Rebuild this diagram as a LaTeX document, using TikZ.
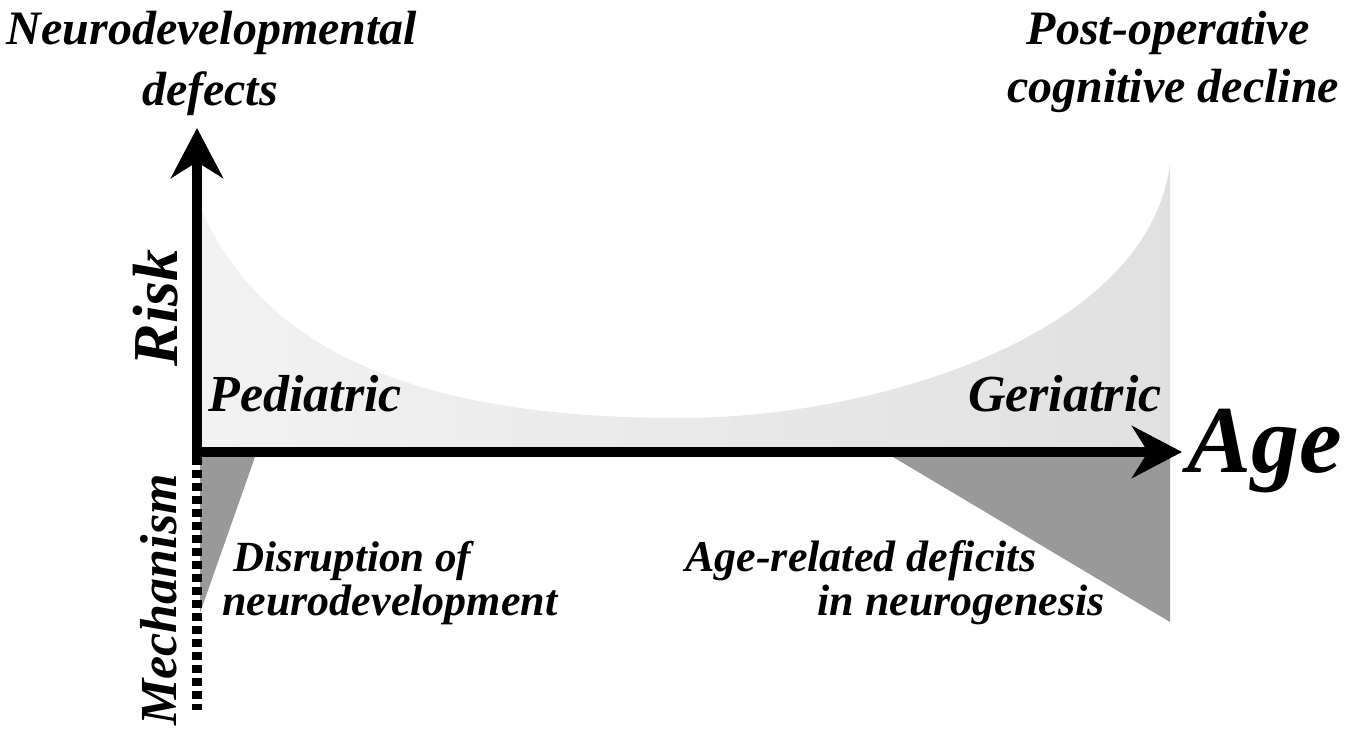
\documentclass[tikz,border=0pt]{standalone}
\usepackage{fontspec}
\setmainfont{Liberation Serif}
\usetikzlibrary{arrows.meta}

\tikzset{
  lbl/.style={font=\bfseries\itshape, inner sep=0pt, anchor=base},
  axisline/.style={line width=5pt, line join=miter, >={Stealth[length=25pt, width=26pt, inset=8pt]}}
}

\begin{document}
\begin{tikzpicture}[x=0.5pt, y=0.5pt]
    \useasboundingbox (0,0) rectangle (1369,733);

    % corner points of the axes
    \coordinate (O) at (197,281);
    \coordinate (ytop) at (197,605);
    \coordinate (xend) at (1182,281);
    \coordinate (mbot) at (197,23);

    % risk curve (U shape)
    \shade[left color=black!5, right color=black!12]
        (197,533) .. controls (260,380) and (420,315) .. (680,315)
        .. controls (880,315) and (1150,400) .. (1170,570)
        -- (1170,281) -- (197,281) -- cycle;

    % mechanism wedges
    \fill[black!40] (200,276) -- (255,276) -- (200,120) -- cycle;
    \fill[black!40] (893,276) -- (1170,276) -- (1170,111) -- cycle;

    % axes
    \draw[axisline, <->] (ytop) -- (O) -- (xend);
    \draw[line width=5pt, dash pattern=on 4pt off 2.5pt] (O) ++(0,-5) coordinate (mtop) -- (mbot);

    % labels
    \node[lbl, font=\fontsize{24}{30}\bfseries\itshape] (nd1) at (212,688) {Neurodevelopmental};
    \node[lbl, font=\fontsize{24}{30}\bfseries\itshape] (nd2) at (210,627) {defects};
    \node[lbl, font=\fontsize{24}{30}\bfseries\itshape] (po1) at (1168,688) {Post-operative};
    \node[lbl, font=\fontsize{24}{30}\bfseries\itshape] (po2) at (1173,630) {cognitive decline};

    \node[lbl, rotate=90, font=\fontsize{32}{36}\bfseries\itshape] (risk) at (177,425) {Risk};
    \node[lbl, rotate=90, font=\fontsize{26}{30}\bfseries\itshape] (mech) at (176,133) {Mechanism};
    \node[lbl, anchor=base west, font=\fontsize{48}{54}\bfseries\itshape] (age) at (1187,260) {Age};

    \node[lbl, anchor=base west, font=\fontsize{26}{30}\bfseries\itshape] (ped) at (208,321) {Pediatric};
    \node[lbl, anchor=base east, font=\fontsize{26}{30}\bfseries\itshape] (ger) at (1162,321) {Geriatric};

    \node[lbl, anchor=base west, font=\fontsize{21.5}{26}\bfseries\itshape] (dis1) at (233,161) {Disruption of};
    \node[lbl, anchor=base west, font=\fontsize{22}{26}\bfseries\itshape] (dis2) at (222,118) {neurodevelopment};
    \node[lbl, anchor=base west, font=\fontsize{22}{26}\bfseries\itshape] (ar1) at (685,161) {Age-related deficits};
    \node[lbl, anchor=base west, font=\fontsize{22}{26}\bfseries\itshape] (ar2) at (817,118) {in neurogenesis};
\end{tikzpicture}
\end{document}
